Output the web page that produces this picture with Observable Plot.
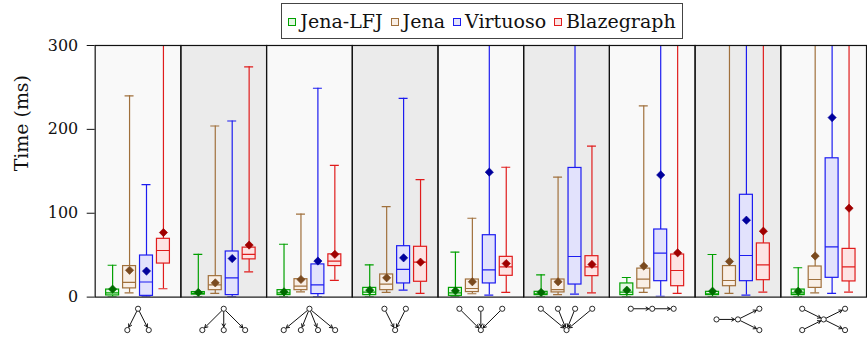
<!DOCTYPE html>
<html><head><meta charset="utf-8">
<script src="https://cdn.jsdelivr.net/npm/d3@7"></script>
<script src="https://cdn.jsdelivr.net/npm/@observablehq/plot@0.6"></script>
<style>
html,body{margin:0;padding:0;background:#fff;overflow:hidden;}
body{width:867px;height:339px;font-family:"DejaVu Serif",serif;}
#top{position:relative;height:42px;}
#legend{position:absolute;left:281px;top:3px;width:402px;height:36px;box-sizing:border-box;border:1.2px solid #444;display:flex;align-items:center;justify-content:center;font-size:19px;color:#111;white-space:nowrap;}
.item{display:flex;align-items:center;margin:0 4px;}
.sw{width:6px;height:6px;border:1.2px solid;margin-right:4px;margin-top:2px;}
svg{display:block;}
</style>
</head><body>
<div id="top"><div id="legend"></div></div>
<div id="main"></div>
<div id="glyphs"></div>
<script>
// ---- data ----
const panels = ["star-2","star-3","star-4","in-2","in-3","in-4","path-3","fork-1-2","fork-2-2"];
const systems = ["Jena-LFJ","Jena","Virtuoso","Blazegraph"];
const strokeColors = ["#00a000","#a0703c","#1c1cf0","#e01c1c"];
const fillColors = ["#e2f7e2","#f9efe6","#e2e2fc","#fde3e3"];
const meanColors = ["#006b00","#7a4a1f","#00009c","#a00000"];
const panelFill = ["#f9f9f9","#ebebeb","#f9f9f9","#ebebeb","#f9f9f9","#ebebeb","#f9f9f9","#ebebeb","#f9f9f9"];
const yTicks = [0,100,200,300];

// rows: system, columns: panel (ms); values above 300 fall outside the axis
const whiskerLow = [
  [0.5,0.5,0.5,0.5,0.5,0.5,0.5,0.5,0.5],
  [5,4.4,6.3,5.6,4,3,5.6,4.4,5],
  [0.5,0.5,0.5,8.3,2.4,3.6,1,2.4,4.4],
  [10,30,20,4.4,5.6,5,4.4,6,6]
];
const quart1 = [
  [2,3,2.4,2.4,1.5,2.4,2.4,2.4,2.4],
  [10.4,8.3,8.3,8.3,6,5.6,10.3,13,11],
  [1.5,2.4,3.6,16.3,16.3,15,19,19,23],
  [40,45,37,18.3,25.4,25,13,20.2,18.7]
];
const median = [
  [5,4.5,5,6,5,4,6,4,5],
  [17.5,14.7,13,15.5,10.3,9,21.4,19.8,21],
  [18,23,14.7,33,32.5,48.4,52.4,49.6,60],
  [55.6,51,43,41.7,36,36,31.7,38.5,36]
];
const quart3 = [
  [9,6,8.3,11,11,6.3,16.3,6.3,9],
  [37,25,21.4,27,21,21,34,37,36.5],
  [49.6,54.4,39,60.7,73.8,154,80.6,122,165.5],
  [69.5,59,51,60,48,48.8,50.8,64,57.5]
];
const whiskerHigh = [
  [38,51,63,38.5,53.6,26.6,23.4,50.8,35],
  [240,204,99,108,94,143,228,420,420],
  [134,210,249,237,420,420,420,420,420],
  [420,274.6,157,140,154.8,180,420,420,420]
];
const mean = [
  [9.5,5.6,6.3,8.3,7.5,5.6,8.3,7,7],
  [32,17,21,23,18.3,18.3,37,42.5,49],
  [31,46,43,46.8,149,380,145.6,91.7,214],
  [77,62,51,41.7,40,39,52.8,78.6,106]
];

// query-shape pictograms below each panel (node layout in grid units, edges as node index pairs)
const shapeNodes = [
  [[0,0],[-0.5,1],[0.5,1]],
  [[0,0],[-1,1],[0,1],[1,1]],
  [[0,0],[-1.2,1],[-0.4,1],[0.4,1],[1.2,1]],
  [[-0.5,0],[0.5,0],[0,1]],
  [[-1,0],[0,0],[1,0],[0,1]],
  [[-1.2,0],[-0.4,0],[0.4,0],[1.2,0],[0,1]],
  [[-1,0],[0,0],[1,0]],
  [[-1,0.5],[0,0.5],[1,0],[1,1]],
  [[-1,0],[-1,1],[0,0.5],[1,0],[1,1]]
];
const shapeEdges = [
  [[0,1],[0,2]],
  [[0,1],[0,2],[0,3]],
  [[0,1],[0,2],[0,3],[0,4]],
  [[0,2],[1,2]],
  [[0,3],[1,3],[2,3]],
  [[0,4],[1,4],[2,4],[3,4]],
  [[0,1],[1,2]],
  [[0,1],[1,2],[1,3]],
  [[0,2],[1,2],[2,3],[2,4]]
];

// ---- tables ----
const rows = [];
systems.forEach((s, j) => panels.forEach((p, i) => rows.push({
  panel: p, system: s, j,
  lo: whiskerLow[j][i], q1: quart1[j][i], med: median[j][i], q3: quart3[j][i],
  hi: whiskerHigh[j][i], mean: mean[j][i]
})));
const bg = panels.map((p, i) => ({panel: p, fill: panelFill[i]}));
const nodeRows = [], edgeRows = [];
panels.forEach((p, i) => {
  shapeNodes[i].forEach(([x, y]) => nodeRows.push({panel: p, x, y}));
  shapeEdges[i].forEach(([a, b]) => edgeRows.push({panel: p,
    x1: shapeNodes[i][a][0], y1: shapeNodes[i][a][1], x2: shapeNodes[i][b][0], y2: shapeNodes[i][b][1]}));
});

// ---- legend ----
const lg = document.getElementById("legend");
systems.forEach((s, j) => {
  const it = document.createElement("div"); it.className = "item";
  const sw = document.createElement("div"); sw.className = "sw";
  sw.style.borderColor = strokeColors[j]; sw.style.background = fillColors[j];
  const t = document.createElement("span"); t.textContent = s;
  it.append(sw, t); lg.append(it);
});

const sc = d => strokeColors[d.j], fc = d => fillColors[d.j], mc = d => meanColors[d.j];
const FONT = "'DejaVu Serif', serif";

const main = Plot.plot({
  width: 870, height: 257,
  marginLeft: 94, marginRight: 0, marginTop: 3, marginBottom: 1.5,
  fx: {domain: panels, padding: 0, axis: null},
  x: {domain: systems, paddingInner: 0.25, paddingOuter: 0.615, axis: null},
  y: {domain: [0, 300]},
  color: {type: "identity"},
  style: {fontFamily: FONT, fontSize: "16px", background: "transparent", overflow: "visible", color: "#111"},
  marks: [
    Plot.barY(bg, {fx: "panel", y1: 0, y2: 300, fill: "fill"}),
    Plot.ruleX(rows, {fx: "panel", x: "system", y1: "lo", y2: "hi", stroke: sc, strokeWidth: 1.2, clip: true}),
    Plot.tickY(rows, {fx: "panel", x: "system", y: "hi", stroke: sc, strokeWidth: 1.2, insetLeft: 2, insetRight: 2, clip: true}),
    Plot.tickY(rows, {fx: "panel", x: "system", y: "lo", stroke: sc, strokeWidth: 1.2, insetLeft: 2, insetRight: 2, clip: true}),
    Plot.barY(rows, {fx: "panel", x: "system", y1: "q1", y2: "q3", fill: fc, stroke: sc, strokeWidth: 1.2, clip: true}),
    Plot.tickY(rows, {fx: "panel", x: "system", y: "med", stroke: sc, strokeWidth: 1.2, clip: true}),
    Plot.dot(rows, {fx: "panel", x: "system", y: "mean", symbol: "square", rotate: 45, r: 3.3, fill: mc, stroke: mc, strokeWidth: 0.6, clip: true}),
    Plot.frame({stroke: "#111", strokeWidth: 1.2}),
    Plot.axisY({ticks: yTicks, tickSize: 8, tickPadding: 9, label: null, fontSize: 16, fontFamily: FONT}),
    Plot.text([{panel: panels[0], t: "Time (ms)"}], {fx: "panel", text: "t", frameAnchor: "left", dx: -73, rotate: -90, fontSize: 19, fontFamily: FONT, fill: "#111"})
  ]
});
document.getElementById("main").append(main);

const glyphs = Plot.plot({
  width: 870, height: 40,
  marginLeft: 94, marginRight: 0, marginTop: 10.3, marginBottom: 8.3,
  fx: {domain: panels, padding: 0, axis: null},
  x: {domain: [-2, 2], axis: null},
  y: {domain: [0, 1], reverse: true, axis: null},
  style: {background: "transparent", overflow: "visible"},
  marks: [
    Plot.arrow(edgeRows, {fx: "panel", x1: "x1", y1: "y1", x2: "x2", y2: "y2", insetStart: 3, insetEnd: 3.3, headLength: 5, strokeWidth: 1, stroke: "#111"}),
    Plot.dot(nodeRows, {fx: "panel", x: "x", y: "y", r: 2.6, fill: "white", stroke: "#111", strokeWidth: 0.9})
  ]
});
document.getElementById("glyphs").append(glyphs);
</script>
</body></html>
